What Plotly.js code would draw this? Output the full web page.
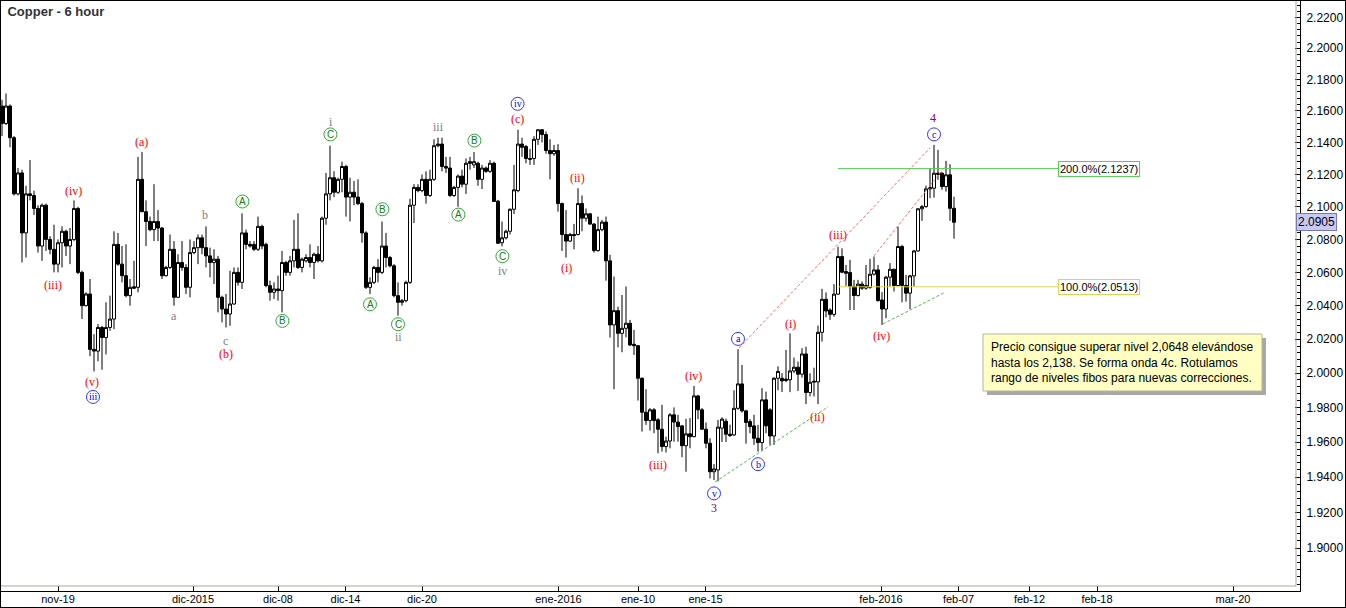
<!DOCTYPE html>
<html>
<head>
<meta charset="utf-8">
<script src="https://cdn.plot.ly/plotly-3.0.1.min.js"></script>
<style>
html,body{margin:0;padding:0;background:#fff;}
#chart{width:1344px;height:606px;border:1px solid #000;overflow:hidden;}
</style>
</head>
<body>
<div id="chart"></div>
<script>
// ---------- DATA (6-hour bars) ----------
const opens = [2.163,2.152,2.163,2.143,2.108,2.121,2.084,2.108,2.107,2.099,2.076,2.101,2.080,2.074,2.065,2.078,2.085,2.076,2.080,2.099,
2.060,2.040,2.047,2.014,2.013,2.027,2.021,2.027,2.032,2.077,2.065,2.058,2.046,2.0513,2.051,2.117,2.097,2.091,2.086,2.091,
2.087,2.058,2.063,2.074,2.045,2.066,2.063,2.051,2.072,2.075,2.081,2.075,2.070,2.066,2.068,2.045,2.038,2.035,2.041,2.060,
2.054,2.084,2.077,2.077,2.074,2.088,2.077,2.052,2.048,2.050,2.049,2.066,2.060,2.067,2.074,2.063,2.067,2.069,2.066,2.071,
2.067,2.093,2.108,2.118,2.109,2.117,2.125,2.106,2.109,2.106,2.102,2.084,2.051,2.054,2.063,2.060,2.076,2.069,2.064,2.046,
2.042,2.043,2.054,2.101,2.112,2.110,2.117,2.107,2.117,2.138,2.139,2.125,2.124,2.107,2.112,2.119,2.114,2.128,2.126,2.127,
2.117,2.124,2.122,2.127,2.1035,2.078,2.081,2.085,2.0985,2.110,2.139,2.1375,2.130,2.130,2.142,2.148,2.145,2.135,2.133,2.135,
2.102,2.083,2.079,2.083,2.083,2.102,2.093,2.0957,2.0894,2.0732,2.086,2.0906,2.067,2.0285,2.037,2.0235,2.0265,2.0295,2.017,2.0162,
1.997,1.9772,1.9724,1.9786,1.9728,1.9674,1.9574,1.9606,1.9757,1.9715,1.9693,1.9579,1.9647,1.9631,1.9867,1.9786,1.9674,1.9593,1.943,1.944,
1.968,1.972,1.9645,1.9641,1.9795,1.9937,1.978,1.9718,1.9693,1.9622,1.9597,1.9844,1.9786,1.9635,1.997,1.997,1.9957,1.9961,2.0013,2.0035,
1.9994,2.0113,1.9887,1.9947,1.9949,2.0241,2.0438,2.0374,2.0348,2.0469,2.0696,2.0605,2.0599,2.0515,2.0461,2.0529,2.0505,2.0509,2.0589,2.0615,
2.0434,2.038,2.0571,2.0619,2.0521,2.0757,2.0521,2.0475,2.0579,2.073,2.0988,2.1001,2.1111,2.1115,2.1208,2.1208,2.1125,2.1198,2.0991];

const highs = [2.167,2.171,2.164,2.144,2.124,2.123,2.113,2.129,2.110,2.101,2.102,2.102,2.082,2.089,2.080,2.088,2.086,2.087,2.104,2.100,
2.061,2.048,2.056,2.023,2.029,2.028,2.042,2.046,2.085,2.084,2.076,2.077,2.056,2.067,2.131,2.134,2.104,2.094,2.114,2.098,
2.0875,2.064,2.083,2.079,2.071,2.079,2.065,2.080,2.079,2.083,2.083,2.088,2.075,2.074,2.070,2.046,2.047,2.061,2.063,2.063,
2.096,2.086,2.079,2.079,2.094,2.089,2.078,2.055,2.054,2.058,2.073,2.067,2.070,2.092,2.096,2.069,2.071,2.077,2.072,2.076,
2.094,2.121,2.138,2.122,2.118,2.128,2.126,2.118,2.116,2.117,2.103,2.085,2.057,2.064,2.068,2.091,2.084,2.070,2.065,2.054,
2.044,2.055,2.105,2.114,2.114,2.120,2.122,2.123,2.142,2.143,2.143,2.131,2.131,2.113,2.120,2.123,2.130,2.131,2.134,2.128,
2.126,2.125,2.129,2.128,2.1043,2.091,2.086,2.099,2.126,2.148,2.143,2.1385,2.136,2.144,2.1485,2.1485,2.147,2.142,2.1385,2.139,
2.1026,2.098,2.084,2.0895,2.1115,2.107,2.099,2.096,2.090,2.094,2.092,2.094,2.0706,2.0575,2.0394,2.0464,2.0515,2.0315,2.0255,2.0166,
1.9975,1.9906,1.9796,1.9796,1.9738,1.9815,1.9631,1.9767,1.980,1.9757,1.9699,1.9734,1.9738,1.9925,1.9873,1.9796,1.9713,1.9622,1.9474,1.9728,
1.9743,1.9735,1.970,1.990,2.0141,2.0048,1.9786,1.9732,1.9757,1.9699,1.9912,1.9892,1.9796,1.9976,2.004,2.000,2.0137,2.0235,2.0092,2.0068,
2.0147,2.0156,1.9999,2.0032,2.0281,2.0501,2.048,2.0384,2.0529,2.0756,2.0746,2.0645,2.0676,2.0555,2.0555,2.0545,2.0645,2.0682,2.0696,2.0645,
2.0481,2.0579,2.0656,2.0621,2.0879,2.0767,2.0585,2.0585,2.0736,2.099,2.1012,2.1131,2.1239,2.1385,2.1354,2.1214,2.1285,2.1264,2.1063];

const lows = [2.144,2.151,2.137,2.107,2.107,2.066,2.069,2.104,2.095,2.072,2.067,2.073,2.071,2.060,2.060,2.063,2.070,2.065,2.079,2.059,
2.032,2.0395,2.010,2.001,2.007,2.002,2.011,2.025,2.026,2.064,2.054,2.045,2.040,2.050,2.048,2.0967,2.076,2.085,2.079,2.079,
2.056,2.0575,2.062,2.040,2.0445,2.061,2.047,2.045,2.071,2.065,2.071,2.063,2.057,2.053,2.036,2.030,2.027,2.028,2.0405,2.052,
2.050,2.074,2.075,2.073,2.073,2.074,2.051,2.043,2.044,2.043,2.036,2.058,2.058,2.063,2.062,2.060,2.066,2.063,2.056,2.066,
2.066,2.089,2.104,2.106,2.108,2.109,2.094,2.091,2.101,2.101,2.078,2.050,2.047,2.053,2.054,2.059,2.063,2.063,2.045,2.034,
2.040,2.042,2.053,2.090,2.109,2.109,2.102,2.106,2.116,2.137,2.122,2.121,2.106,2.106,2.100,2.112,2.108,2.123,2.124,2.113,
2.111,2.121,2.121,2.103,2.0773,2.0758,2.080,2.083,2.0956,2.109,2.131,2.127,2.126,2.126,2.1385,2.140,2.133,2.117,2.1316,2.097,
2.073,2.069,2.0785,2.074,2.0825,2.085,2.091,2.089,2.072,2.0726,2.085,2.055,2.021,1.9906,2.0152,2.0123,2.0211,2.016,2.0107,1.984,
1.966,1.9699,1.9666,1.9651,1.9536,1.9545,1.954,1.9564,1.9602,1.9602,1.9513,1.943,1.9564,1.9628,1.9732,1.967,1.9564,1.9392,1.9383,1.9375,
1.9601,1.960,1.963,1.9635,1.9786,1.977,1.9591,1.9651,1.9584,1.9545,1.9551,1.9651,1.9584,1.9584,1.990,1.989,1.9947,1.9889,2.000,1.9896,
1.9974,1.9819,1.9864,1.9864,1.9819,2.0186,2.033,2.0315,2.0334,2.0465,2.0595,2.0519,2.0374,2.0374,2.0455,2.0495,2.0495,2.0501,2.0581,2.0424,
2.0285,2.0325,2.0515,2.0485,2.0515,2.042,2.0424,2.038,2.0515,2.0726,2.0914,2.0995,2.1053,2.1057,2.1167,2.1105,2.1094,2.0914,2.0805];

const closes = [2.152,2.163,2.143,2.108,2.121,2.084,2.108,2.107,2.099,2.076,2.101,2.080,2.074,2.065,2.078,2.085,2.076,2.080,2.099,2.060,
2.040,2.047,2.014,2.013,2.027,2.021,2.027,2.032,2.077,2.065,2.058,2.046,2.051,2.0505,2.117,2.097,2.091,2.086,2.091,2.087,
2.058,2.063,2.074,2.045,2.066,2.063,2.051,2.072,2.075,2.081,2.075,2.070,2.066,2.068,2.045,2.038,2.035,2.041,2.060,2.054,
2.084,2.077,2.076,2.074,2.088,2.076,2.052,2.048,2.050,2.049,2.066,2.060,2.067,2.074,2.063,2.068,2.069,2.066,2.071,2.067,
2.093,2.108,2.118,2.109,2.117,2.125,2.106,2.109,2.106,2.102,2.084,2.051,2.054,2.063,2.060,2.076,2.069,2.064,2.046,2.042,
2.043,2.054,2.101,2.112,2.110,2.117,2.107,2.117,2.138,2.139,2.125,2.124,2.107,2.112,2.119,2.114,2.127,2.127,2.128,2.117,
2.124,2.122,2.127,2.1033,2.0777,2.081,2.085,2.0985,2.1105,2.139,2.137,2.130,2.1295,2.142,2.148,2.145,2.135,2.133,2.135,2.102,
2.083,2.079,2.083,2.0824,2.102,2.093,2.0957,2.0894,2.0732,2.086,2.0906,2.067,2.0285,2.037,2.0235,2.0265,2.0295,2.0166,2.0162,1.997,
1.9772,1.9724,1.9786,1.9724,1.9674,1.9574,1.9606,1.9757,1.9715,1.9689,1.9579,1.9647,1.9631,1.9867,1.9786,1.9674,1.9593,1.943,1.9446,1.9686,
1.9732,1.9645,1.9637,1.9795,1.9937,1.978,1.9713,1.9689,1.9622,1.9597,1.9844,1.9693,1.9635,1.997,2.001,1.9955,1.9965,2.0013,2.0035,1.9994,
2.0113,1.9887,1.9947,1.9952,2.0241,2.0438,2.0368,2.0348,2.0469,2.0696,2.0601,2.0595,2.0515,2.0461,2.0529,2.0505,2.0521,2.0589,2.0615,2.043,
2.038,2.0571,2.0619,2.0521,2.0757,2.0521,2.0475,2.0579,2.073,2.0988,2.1001,2.1111,2.1119,2.1208,2.1202,2.1125,2.1198,2.0991,2.0905];

// x-axis: bar index of each date label
const xTickPos  = [14, 47.75, 69, 85.875, 105, 139.125, 159, 175.875, 219.75, 239.125, 256.875, 273.75, 307.75];
const xTickText = ['nov-19','dic-2015','dic-08','dic-14','dic-20','ene-2016','ene-10','ene-15','feb-2016','feb-07','feb-12','feb-18','mar-20'];

// y-axis tick values
const yTickVals = [1.90,1.92,1.94,1.96,1.98,2.00,2.02,2.04,2.06,2.08,2.10,2.12,2.14,2.16,2.18,2.20,2.22];

// Elliott wave labels: [bar index, price, text]
const redLabels = [
  [34.9,2.1405,'(a)'],[17.8,2.1096,'(iv)'],[12.8,2.0525,'(iii)'],[22.5,1.9949,'(v)'],[55.9,2.0113,'(b)'],
  [128.9,2.1547,'(c)'],[143.8,2.1178,'(ii)'],[141,2.0625,'(i)'],[164,1.9466,'(iii)'],[172.9,1.9982,'(iv)'],
  [197,2.0293,'(i)'],[203.8,1.9747,'(ii)'],[209.1,2.0828,'(iii)'],[219.9,2.0217,'(iv)']
];
const grayLabels = [
  [50.75,2.0950,'b'],[43,2.0338,'a'],[55.9,2.0189,'c'],[82.2,2.1532,'i'],[99,2.0214,'ii'],[109.1,2.1498,'iii'],[125.1,2.0609,'iv']
];
const purpleLabels = [[178.1,1.9226,'3'],[232.75,2.1556,'4']];
const greenCircled = [
  [60.1,2.1033,'A'],[70.1,2.0309,'B'],[82.1,2.1451,'C'],[95.1,2.0985,'B'],[92,2.0408,'A'],[99,2.0289,'C'],
  [118.1,2.1412,'B'],[114.1,2.0952,'A'],[125.1,2.0698,'C']
];
const blueCircled = [
  [22.75,1.9861,'iii'],[128.9,2.1644,'iv'],[184,2.0202,'a'],[189,1.9473,'b'],[178,1.9307,'v'],[233,2.1451,'c']
];

// trend lines: [x0, p0, x1, p1]
const redChannel = [[184.25,2.0149,232,2.1366],[218,2.0700,236.5,2.1272]];
const greenChannel = [[178.25,1.9372,206.5,1.9803],[220.25,2.0291,235.5,2.0477]];

// Fibonacci levels
const fiboLevels = [2.1237, 2.0513];
const fiboText = ['200.0%(2.1237)','100.0%(2.0513)'];
const fiboStart = 209, fiboEnd = 264;
const lastPrice = 2.0905;

const commentText = 'Precio consigue superar nivel 2,0648 elevándose<br>hasta los 2,138. Se forma onda 4c. Rotulamos<br>rango de niveles fibos para nuevas correcciones.';

// ---------- BUILD ----------
const idx = opens.map((_, i) => i);
const L10 = Math.log10;

const minorVals = [];
for (let k = 0; k <= 90; k++) minorVals.push(+(1.876 + 0.004 * k).toFixed(3));

const serif = 'Liberation Serif, Times New Roman, serif';
const sans = 'Liberation Sans, Arial, sans-serif';

const annotations = [];
const shapes = [];
const traces = [];

traces.push({
  type: 'candlestick', x: idx, open: opens, high: highs, low: lows, close: closes,
  increasing: {line: {color: '#000', width: 1}, fillcolor: '#ffffff'},
  decreasing: {line: {color: '#000', width: 1}, fillcolor: '#000000'},
  whiskerwidth: 0, hoverinfo: 'skip', showlegend: false
});

function lineTrace(xs, ys, color, dash) {
  traces.push({type: 'scatter', mode: 'lines', x: xs, y: ys, hoverinfo: 'skip', showlegend: false,
    line: {color: color, width: 1, dash: dash || 'solid'}});
}
redChannel.forEach(([x0, p0, x1, p1]) => lineTrace([x0, x1], [p0, p1], '#ff6e6e', '3px,2px'));
greenChannel.forEach(([x0, p0, x1, p1]) => lineTrace([x0, x1], [p0, p1], '#5cb25c', '3px,2px'));
const fiboColors = ['#5ccc5c', '#d8d850'];
fiboLevels.forEach((lv, k) => lineTrace([fiboStart, fiboEnd], [lv, lv], fiboColors[k]));

function circleTrace(arr, color) {
  traces.push({type: 'scatter', mode: 'markers', x: arr.map(a => a[0]), y: arr.map(a => a[1]),
    hoverinfo: 'skip', showlegend: false, cliponaxis: false,
    marker: {symbol: 'circle-open', size: 13, color: color, line: {width: 1, color: color}}});
}
circleTrace(greenCircled, '#33aa33');
circleTrace(blueCircled, '#3333ff');

function addText(arr, color, size, family) {
  arr.forEach(([x, p, t]) => annotations.push({
    x: x, y: L10(p), xref: 'x', yref: 'y', text: t, showarrow: false,
    xanchor: 'center', yanchor: 'middle', font: {family: family, size: size, color: color}
  }));
}
addText(redLabels, '#ff0000', 12, serif);
addText(grayLabels, '#808080', 12, serif);
addText(purpleLabels, '#800080', 12, serif);
addText(greenCircled, '#108010', 10, sans);
addText(blueCircled, '#0000dd', 10, serif);

fiboLevels.forEach((lv, k) => {
  annotations.push({x: fiboEnd, y: L10(lv), xref: 'x', yref: 'y', text: fiboText[k], showarrow: false,
    xanchor: 'left', yanchor: 'middle', bgcolor: '#ffffff', bordercolor: fiboColors[k], borderwidth: 1, borderpad: 1,
    font: {family: sans, size: 11, color: '#000'}});
});

// plot-area pixel helpers (page px -> paper)
const px = x => (x - 1) / 1299;
const py = y => 1 - (y - 1) / 590;

// inner gray frame lines
shapes.push({type: 'line', xref: 'paper', yref: 'paper', x0: 0, x1: px(1296), y0: py(586), y1: py(586), line: {color: '#a8a89c', width: 1}});
shapes.push({type: 'line', xref: 'paper', yref: 'paper', x0: px(1296), x1: px(1296), y0: py(586), y1: 1, line: {color: '#a8a89c', width: 1}});

// comment box with shadow
shapes.push({type: 'rect', xref: 'paper', yref: 'paper', x0: px(987), x1: px(1266), y0: py(395), y1: py(338),
  line: {width: 0}, fillcolor: '#a8a8a8'});
shapes.push({type: 'rect', xref: 'paper', yref: 'paper', x0: px(983), x1: px(1262), y0: py(391), y1: py(334),
  line: {color: '#b4b4a0', width: 1}, fillcolor: '#ffffc4'});
annotations.push({xref: 'paper', yref: 'paper', x: px(989), y: py(362), xanchor: 'left', yanchor: 'middle',
  text: commentText, showarrow: false, align: 'left', font: {family: sans, size: 12, color: '#000'}});

// last price marker on the axis
annotations.push({xref: 'paper', yref: 'y', x: px(1296), y: L10(lastPrice), xanchor: 'left', yanchor: 'middle',
  text: lastPrice.toFixed(4), showarrow: false, bgcolor: '#c8c8f4', bordercolor: '#7878b8', borderwidth: 1, borderpad: 1,
  font: {family: sans, size: 12, color: '#000'}});

const layout = {
  width: 1344, height: 606,
  margin: {l: 0, r: 45, t: 0, b: 16, pad: 0},
  paper_bgcolor: '#ffffff', plot_bgcolor: '#ffffff',
  showlegend: false, hovermode: false, dragmode: false,
  boxgap: 0.25, boxgroupgap: 0,
  title: {text: '<b>Copper - 6 hour</b>', xref: 'container', yref: 'container', x: 0.0048, xanchor: 'left',
    y: 0.982, yanchor: 'middle', font: {family: sans, size: 13, color: '#333333'}},
  xaxis: {
    type: 'linear', range: [-0.25, 324.5], showgrid: false, zeroline: false,
    showline: true, linecolor: '#000', linewidth: 1,
    ticks: 'inside', ticklen: 5, tickcolor: '#000', tickwidth: 1,
    tickmode: 'array', tickvals: xTickPos, ticktext: xTickText,
    tickfont: {family: sans, size: 11, color: '#000'}, ticklabelstandoff: -2,
    rangeslider: {visible: false}, fixedrange: true
  },
  yaxis: {
    type: 'log', side: 'right', range: [0.27328, 0.34844], showgrid: false, zeroline: false,
    showline: true, linecolor: '#000', linewidth: 1,
    ticks: 'inside', ticklen: 5, tickcolor: '#000', tickwidth: 1,
    tickmode: 'array', tickvals: yTickVals, ticktext: yTickVals.map(v => v.toFixed(4)),
    tickfont: {family: sans, size: 12, color: '#000'}, ticklabelstandoff: 3,
    minor: {tickmode: 'array', tickvals: minorVals, ticks: 'inside', ticklen: 3, tickcolor: '#000', tickwidth: 1, showgrid: false},
    fixedrange: true
  },
  shapes: shapes,
  annotations: annotations
};

Plotly.newPlot('chart', traces, layout, {staticPlot: true, displayModeBar: false});
</script>
</body>
</html>
